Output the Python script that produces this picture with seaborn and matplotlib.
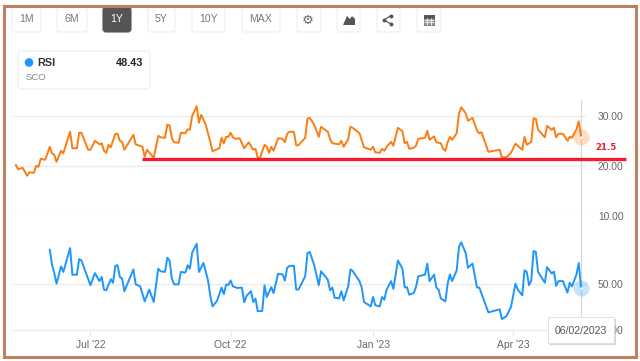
import matplotlib
matplotlib.use("Agg")
import matplotlib.pyplot as plt
from matplotlib.patches import FancyBboxPatch, Rectangle, Circle, Polygon
import seaborn as sns

# trading sessions counted from 1 Jul 2022
PRICE_SESSION = [-33,-32,-30,-28,-27,-25,-24,-23,-22,-20,-18,-17,-16,-15,-13,-12,-9,-8,-6,-5,-4,-1,0,2,4,5,6,7,8,9,11,12,13,14,15,19,20,23,24,25,28,30,31,33,34,35,36,37,39,40,42,43,44,45,47,48,49,51,53,54,57,
                 58,59,60,61,62,63,64,66,68,70,72,73,74,75,77,78,79,80,81,83,85,86,87,88,90,91,92,95,96,97,99,101,102,105,106,107,110,111,112,114,115,116,119,121,124,125,126,128,129,130,131,133,134,136,138,139,140,141,143,144,145,148,149,
                 150,152,153,155,156,157,158,159,160,162,163,164,166,167,169,171,172,173,176,181,182,184,186,188,189,191,192,193,195,196,197,198,201,202,204,205,206,207,209,211,212,213,215,216,217]
PRICE = [20.3,19.4,19.7,18.1,18.8,18.7,20.1,19.9,21.5,21.3,23.9,22.6,22.3,20.9,23.1,22.6,26.9,23.6,23.6,26.7,26.7,23.3,23.3,25.1,24.4,24.6,23.1,22.7,24.3,23.8,26.5,26.5,25.1,24.9,23.3,26.3,24.4,23.9,21.9,23.3,21.7,26.1,25.8,25.7,28.3,28.2,25.7,24.8,24.7,26.7,26.6,27.4,27.3,30.1,32.0,28.7,30.3,28.3,24.9,23.0,23.6,
         25.7,24.6,25.9,25.9,26.7,25.8,25.5,25.6,23.6,24.8,23.3,23.5,21.7,21.7,24.3,23.9,22.7,23.9,23.1,25.6,25.5,24.8,26.5,26.9,26.9,24.2,24.2,25.7,29.5,29.7,28.3,25.9,27.9,26.9,25.4,24.6,24.4,25.1,23.9,25.4,27.9,27.7,26.6,23.8,23.3,23.9,22.8,22.7,23.5,23.1,23.9,24.9,24.1,27.7,27.0,24.6,24.9,23.5,23.7,24.1,25.5,25.7,27.1,
         25.3,26.0,24.8,24.6,23.5,23.1,24.8,25.9,25.3,26.6,30.5,31.8,30.6,29.1,29.7,27.1,26.6,26.8,22.9,23.3,21.8,21.8,22.7,24.5,24.1,23.3,25.9,24.3,24.9,29.6,29.5,27.3,25.8,28.1,27.3,27.7,25.8,26.5,26.5,25.1,25.9,25.7,27.4,29.0,25.9]

RSI_SESSION = [-18,-17,-16,-15,-13,-12,-9,-8,-6,-5,-4,0,2,4,5,6,7,9,10,11,12,13,14,15,19,20,22,24,26,28,30,31,33,34,35,36,37,39,40,42,43,44,45,47,48,50,52,53,54,56,58,59,60,61,62,63,65,67,68,69,71,
               72,73,74,76,77,78,80,81,83,85,86,87,88,90,91,92,95,96,97,99,101,102,105,106,107,108,110,111,112,114,115,116,119,120,121,124,125,126,128,129,130,131,133,134,136,138,139,140,141,143,144,145,148,149,150,152,153,
               154,155,157,158,159,160,162,163,164,166,167,169,171,172,176,181,182,184,186,188,189,191,192,193,194,195,196,197,198,201,202,204,205,206,207,209,211,212,213,215,216,217]
RSI = [65.1,58.6,54.9,50.3,57.8,55.4,65.8,54.2,54.2,61.0,60.4,49.6,54.9,51.4,53.2,47.7,47.4,52.2,50.7,58.1,58.3,53.2,52.5,47.0,56.5,50.0,49.1,42.6,47.7,42.3,56.8,55.7,55.4,61.6,60.4,52.5,50.0,50.0,55.4,55.1,58.3,56.8,63.8,67.7,55.4,59.3,51.7,45.2,40.4,42.8,48.6,45.7,49.9,49.7,51.7,49.1,48.4,48.6,42.2,44.9,47.1,
       42.3,43.8,38.3,38.4,49.6,44.5,48.8,46.2,54.6,54.3,51.7,57.1,58.0,58.1,47.8,47.7,53.5,63.6,64.1,58.3,49.6,55.7,52.0,47.4,48.6,44.2,43.9,47.0,43.0,49.1,56.5,55.8,51.4,48.6,42.3,40.4,44.5,40.9,40.4,44.5,43.3,47.7,51.4,48.0,60.4,56.8,48.6,48.8,45.5,46.2,48.8,53.5,54.2,59.0,51.4,54.2,48.6,
       47.7,43.8,42.6,50.3,54.3,51.4,56.1,66.2,68.3,63.6,57.2,59.0,48.6,48.6,37.8,39.1,34.9,36.1,40.1,50.3,47.7,45.2,56.1,55.4,49.6,51.7,64.5,64.1,55.4,50.7,57.5,54.7,55.5,49.3,51.4,51.4,46.4,50.7,49.1,54.3,59.3,48.43]

X_TICKS = [0, 62, 125, 187]
X_LABELS = ["Jul '22", "Oct '22", "Jan '23", "Apr '23"]
PRICE_TICKS = [10, 20, 30]
RSI_TICKS = [30, 50]
RANGES = ["1M", "6M", "1Y", "5Y", "10Y", "MAX"]
SUPPORT = 21.5
LAST_DATE = "06/02/2023"

ORANGE = "#fb7d12"
BLUE = "#1e96fb"
RED = "#ee1c2e"
GRID = "#ebebeb"
TEXT = "#666666"
FRAME = "#c07f5f"

sns.set_theme(style="white")
plt.rcParams["font.family"] = ["Liberation Sans", "DejaVu Sans"]

W, H = 640, 361
fig = plt.figure(figsize=(6.4, 3.61), dpi=100, facecolor="white")
ax_top = fig.add_axes([12/W, 1-216.3/H, 574/W, 116.3/H])
ax_bot = fig.add_axes([12/W, 1-330.3/H, 574/W, 114/H])

sns.lineplot(x=PRICE_SESSION, y=PRICE, ax=ax_top, color=ORANGE, linewidth=1.4, estimator=None, solid_joinstyle="round")
sns.lineplot(x=RSI_SESSION, y=RSI, ax=ax_bot, color=BLUE, linewidth=1.4, estimator=None, solid_joinstyle="round")

ax_top.set_ylim(10, 33.26)
ax_bot.set_ylim(30, 79.6)
for ax, ticks in ((ax_top, PRICE_TICKS), (ax_bot, RSI_TICKS)):
    ax.set_xlim(-34.7, 219.2)
    ax.patch.set_visible(False)
    sns.despine(ax=ax, left=True, right=True, top=True, bottom=True)
    ax.yaxis.tick_right()
    ax.set_yticks(ticks, [f"{t:.2f}" for t in ticks])
    ax.tick_params(axis="y", length=0, pad=8.6, labelsize=7.4, labelcolor=TEXT)
    ax.grid(axis="y", color=GRID, linewidth=1)
    ax.set_axisbelow(True)
    ax.axvline(PRICE_SESSION[-1], color="#d9d9d9", linewidth=0.9, zorder=1)

ax_top.set_xticks([])
ax_bot.set_xticks(X_TICKS, X_LABELS)
ax_bot.tick_params(axis="x", length=4.5, width=0.8, color=GRID, pad=2.5, labelsize=7.4, labelcolor=TEXT, bottom=True)
for t in ax_bot.get_ygridlines():
    t.set_clip_on(False)

# support line and its label run past the plot area
ax_top.plot([23, 237], [SUPPORT, SUPPORT], color=RED, linewidth=2.4, clip_on=False, solid_capstyle="butt", zorder=5)
ax_top.text(223.5, 23.66, "21.5", color=RED, fontsize=6.2, fontweight="bold", family="DejaVu Sans", va="center", clip_on=False)

# hover markers on the last session
for ax, xs, ys, col in ((ax_top, PRICE_SESSION, PRICE, ORANGE), (ax_bot, RSI_SESSION, RSI, BLUE)):
    ax.scatter(xs[-1], ys[-1], s=135, color=col, alpha=0.25, linewidth=0, clip_on=False, zorder=4)
    ax.scatter(xs[-1], ys[-1], s=3, color="white", linewidth=0, clip_on=False, zorder=6)

# page furniture, in pixels
ui = fig.add_axes([0, 0, 1, 1], zorder=10)
ui.set_xlim(0, W)
ui.set_ylim(H, 0)
ui.axis("off")


def button(x0, x1, label=None, dark=False):
    ui.add_patch(FancyBboxPatch((x0+3, 10), x1-x0-6, 19, boxstyle="round,pad=3,rounding_size=3",
                                fc="#555555" if dark else "white", ec="#555555" if dark else "#eeeeee", lw=0.8))
    if label:
        ui.text((x0+x1)/2, 19.5, label, ha="center", va="center", fontsize=7.6,
                color="white" if dark else "#777777")


spans = [(12, 41), (57, 87), (103, 131), (148, 175), (192, 225), (242, 280)]
for lab, (a, b) in zip(RANGES, spans):
    button(a, b, lab, dark=lab == "1Y")
for a, b in [(297, 321), (337, 360), (377, 400), (417, 441)]:
    button(a, b)

ui.text(308, 20, "\u2699", ha="center", va="center", fontsize=9.5, color="#666666", family="DejaVu Sans")
ui.add_patch(Polygon([(343, 25), (347, 16), (350, 19), (352, 16), (355, 19), (355, 25)], fc="#555555", ec="none"))
ui.plot([391, 384, 391], [15.5, 20, 24], color="#555555", lw=0.9)
ui.scatter([391, 384, 391], [15.5, 20, 24], s=8, color="#555555", linewidth=0)
ui.add_patch(Rectangle((424, 15), 10, 9.5, fc="#999999", ec="#555555", lw=0.5))
ui.add_patch(Rectangle((424, 15), 10, 2.5, fc="#555555", ec="#555555", lw=0.5))
for gx in (427.3, 430.6):
    ui.plot([gx, gx], [17.5, 24.5], color="white", lw=0.5)
for gy in (19.8, 22.1):
    ui.plot([424, 434], [gy, gy], color="white", lw=0.5)

# legend card
ui.add_patch(FancyBboxPatch((21, 54), 126, 32, boxstyle="round,pad=3,rounding_size=3", fc="white", ec="#ececec", lw=0.8))
ui.add_patch(Circle((29, 62.5), 4.3, fc=BLUE, ec="none"))
ui.text(37, 62.5, "RSI", fontsize=7.8, fontweight="bold", color="#333333", va="center")
ui.text(143, 62.5, "48.43", fontsize=7.8, fontweight="bold", color="#222222", va="center", ha="right")
ui.text(26, 77, "SCO", fontsize=6.8, color="#888888", va="center")

# date tooltip
ui.add_patch(Rectangle((549, 318.5), 66.5, 26, fc="#bdbdbd", ec="none", alpha=0.6))
ui.add_patch(Rectangle((548, 317), 66, 26, fc="white", ec="#dddddd", lw=0.6))
ui.text(581, 330.5, LAST_DATE, ha="center", va="center", fontsize=7.6, color="#555555")

# brown frame around the screenshot
ui.add_patch(Rectangle((3.5, 5.5), 632.5, 351, fc="none", ec=FRAME, lw=2.2))

fig.savefig("out.png", dpi=100)
